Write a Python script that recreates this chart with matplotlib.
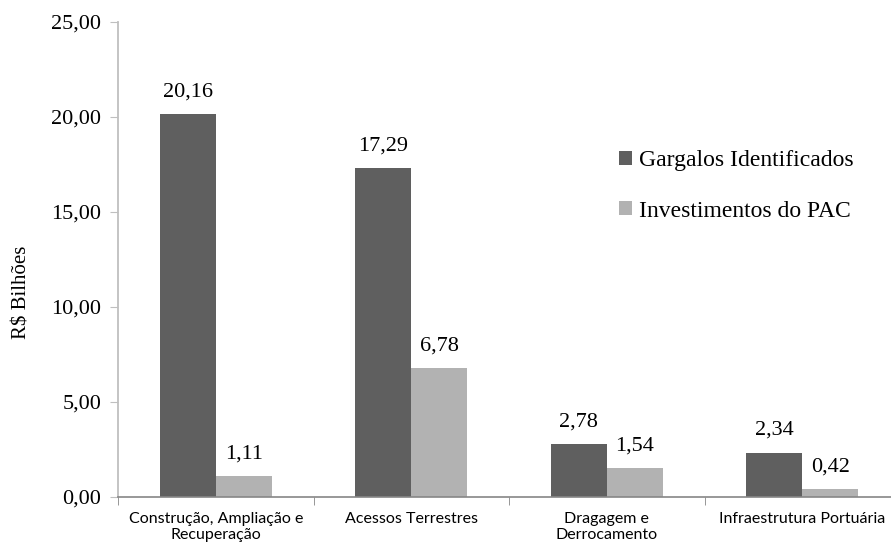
import matplotlib

matplotlib.use("Agg")
import matplotlib.pyplot as plt
import numpy as np
from matplotlib.ticker import FixedLocator, FuncFormatter

categories = [
    "Construção, Ampliação e\nRecuperação",
    "Acessos Terrestres",
    "Dragagem e\nDerrocamento",
    "Infraestrutura Portuária",
]
gargalos = [20.16, 17.29, 2.78, 2.34]
investimentos = [1.11, 6.78, 1.54, 0.42]
series_names = ["Gargalos Identificados", "Investimentos do PAC"]
y_ticks = [0, 5, 10, 15, 20, 25]

DARK = "#5f5f5f"
LIGHT = "#b2b2b2"
LEFT_AXIS = "#bfbfbf"
BOTTOM_AXIS = "#868686"
SERIF = "Liberation Serif"

fig = plt.figure(figsize=(8.91, 5.49), dpi=100)
# axes runs a bit past the right edge of the canvas
ax = fig.add_axes((118 / 891, 52 / 549, 782 / 891, 475 / 549))

x = np.arange(len(categories))
w = 0.287
b1 = ax.bar(x - w / 2, gargalos, w, color=DARK, label=series_names[0])
b2 = ax.bar(x + w / 2, investimentos, w, color=LIGHT, label=series_names[1])

for bars, vals in ((b1, gargalos), (b2, investimentos)):
    for rect, v in zip(bars, vals):
        ax.annotate(
            f"{v:.2f}".replace(".", ","),
            (rect.get_x() + rect.get_width() / 2, v),
            xytext=(0, 9),
            textcoords="offset points",
            ha="center",
            va="bottom",
            fontsize=16,
            family=SERIF,
        )

ax.set_xlim(-0.5, len(categories) - 0.5)
ax.set_ylim(0, 25)
ax.yaxis.set_major_locator(FixedLocator(y_ticks))
ax.yaxis.set_major_formatter(FuncFormatter(lambda v, _p: f"{v:.2f}".replace(".", ",")))
ax.set_ylabel("R$ Bilhões", fontsize=15, family=SERIF)
ax.yaxis.set_label_coords(-0.11, 0.43)

ax.set_xticks(x)
ax.set_xticklabels(categories, fontsize=11.5, family="Lato", linespacing=1.2)
ax.tick_params(axis="x", length=0, pad=11)
ax.set_xticks(np.arange(len(categories) + 1) - 0.5, minor=True)
ax.tick_params(axis="x", which="minor", length=6, color=BOTTOM_AXIS, direction="out")
ax.tick_params(axis="y", length=6, color=LEFT_AXIS, labelsize=16, pad=6)
for lab in ax.get_yticklabels():
    lab.set_family(SERIF)

for side in ("top", "right"):
    ax.spines[side].set_visible(False)
ax.spines["left"].set_color(LEFT_AXIS)
ax.spines["left"].set_linewidth(1.3)
ax.spines["bottom"].set_color(BOTTOM_AXIS)
ax.spines["bottom"].set_linewidth(1.2)

ax.legend(
    loc="upper left",
    bbox_to_anchor=(0.613, 0.775),
    frameon=False,
    prop={"family": SERIF, "size": 17},
    handlelength=0.55,
    handleheight=0.55,
    handletextpad=0.3,
    labelspacing=1.25,
)

fig.savefig("out.png", dpi=100)
